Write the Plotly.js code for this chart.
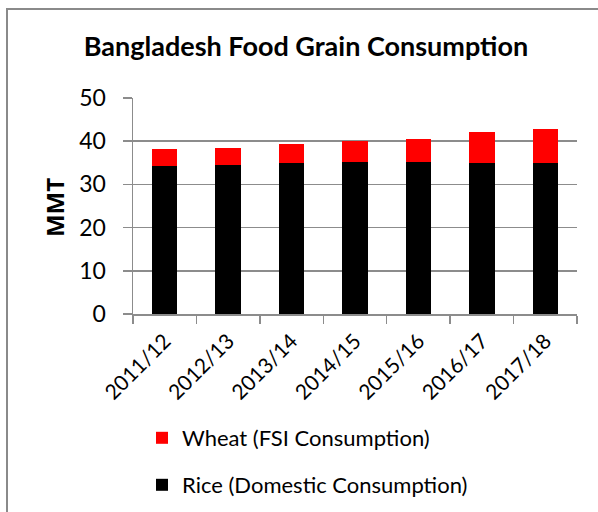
<!DOCTYPE html>
<html>
<head>
<meta charset="utf-8">
<script src="https://cdn.plot.ly/plotly-3.0.1.min.js"></script>
<style>
html,body{margin:0;padding:0;width:598px;height:512px;overflow:hidden;background:#fff;}
#chart{position:absolute;left:0;top:0;width:598px;height:512px;}
#frame{position:absolute;left:6px;top:8px;width:700px;height:600px;border:2px solid #8a8a8a;pointer-events:none;}
</style>
</head>
<body>
<div id="chart"></div>
<div id="frame"></div>
<script>
const years = ["2011/12","2012/13","2013/14","2014/15","2015/16","2016/17","2017/18"];
const rice = [34.15, 34.4, 34.85, 35.1, 35.1, 35.0, 35.0];
const wheat = [4.0, 4.0, 4.45, 4.9, 5.5, 7.1, 7.8];
const riceName = "Rice (Domestic Consumption)";
const wheatName = "Wheat (FSI Consumption)";
const yTicks = [0,10,20,30,40,50];
const yTitle = "MMT";

const FONT = "Lato, 'Open Sans', sans-serif";
const grid = "#8c8c8c";

const traces = [
  {type:"bar", x:years, y:rice, name:riceName, marker:{color:"#000000"}, legend:"legend2"},
  {type:"bar", x:years, y:wheat, name:wheatName, marker:{color:"#ff0000"}, legend:"legend"}
];

const layout = {
  width:598, height:512,
  paper_bgcolor:"#ffffff", plot_bgcolor:"#ffffff",
  barmode:"stack", bargap:0.6,
  margin:{l:133, r:21, t:98, b:198, autoexpand:false},
  font:{family:FONT, color:"#000", size:20},
  title:{text:"<b>Bangladesh Food Grain Consumption</b>", font:{family:FONT, size:27, color:"#000"},
         x:306/598, xref:"container", xanchor:"center", y:1-47/512, yref:"container", yanchor:"middle"},
  xaxis:{type:"category", tickangle:-45, tickson:"boundaries", ticks:"outside", ticklen:8, tickwidth:1.5, tickcolor:grid,
         showline:true, linecolor:grid, linewidth:1.5, showgrid:false, tickfont:{size:21, family:FONT},
         ticklabelstandoff:5, automargin:false},
  yaxis:{range:[0,50], tickvals:yTicks, ticks:"outside", ticklen:9, tickwidth:1.5, tickcolor:grid,
         showline:true, linecolor:grid, linewidth:1.5, showgrid:true, gridcolor:grid, gridwidth:1.5, zeroline:false,
         tickfont:{size:23, family:FONT}, ticklabelstandoff:12, automargin:false},
  annotations:[{text:"<b>"+yTitle+"</b>", textangle:-90, xref:"paper", yref:"paper", x:-0.178, y:0.495,
                xanchor:"center", yanchor:"middle", showarrow:false,
                font:{size:24, family:"'Open Sans', Lato, sans-serif", color:"#000", weight:700}}],
  legend:{x:142/598, y:1-438/512, xref:"container", yref:"container", xanchor:"left", yanchor:"middle",
          font:{size:22, family:FONT}, bgcolor:"rgba(0,0,0,0)", itemwidth:30},
  legend2:{x:142/598, y:1-485/512, xref:"container", yref:"container", xanchor:"left", yanchor:"middle",
          font:{size:22, family:FONT}, bgcolor:"rgba(0,0,0,0)", itemwidth:30},
  showlegend:true
};

Plotly.newPlot("chart", traces, layout, {displayModeBar:false, staticPlot:true});
</script>
</body>
</html>
